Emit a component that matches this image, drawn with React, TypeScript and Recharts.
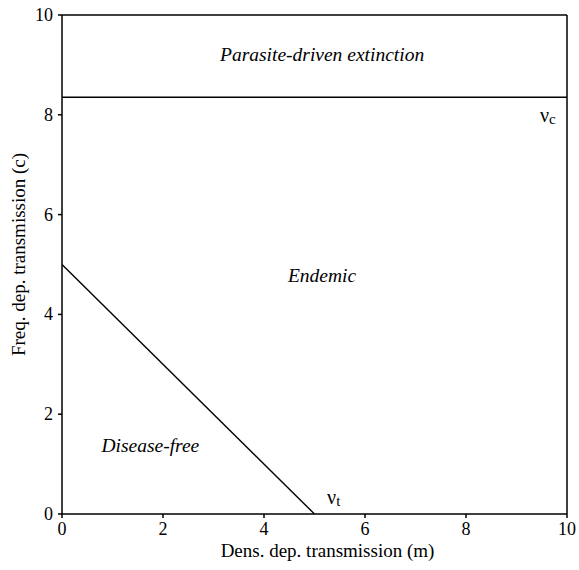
import React from 'react';
import { LineChart, Line, XAxis, YAxis, ReferenceLine, ReferenceDot, Label } from 'recharts';

// axis ticks
const axisTicks = [0, 2, 4, 6, 8, 10];

// vc threshold (horizontal line)
const vcM = [0, 10];
const vcC = [8.35, 8.35];

// vt threshold (diagonal line)
const vtM = [0, 5];
const vtC = [5, 0];

// region labels (data coordinates)
const regionNames = ['Parasite-driven extinction', 'Endemic', 'Disease-free'];
const regionM = [5.15, 5.15, 1.75];
const regionC = [9.2, 4.78, 1.38];

// threshold labels
const symbolBase = ['ν', 'ν'];
const symbolSub = ['c', 't'];
const symbolM = [9.62, 5.38];
const symbolC = [8.0, 0.35];

const vcData = vcM.map((m, i) => ({ m, c: vcC[i] }));
const vtData = vtM.map((m, i) => ({ m, c: vtC[i] }));

const FONT = '"Liberation Serif", "Times New Roman", serif';

const RegionLabel = (name: string) => (props: any) => {
  const vb = props.viewBox || {};
  const cx = vb.x + (vb.width || 0) / 2;
  const cy = vb.y + (vb.height || 0) / 2;
  return (
    <text x={cx} y={cy} textAnchor="middle" dominantBaseline="central"
      style={{ fontFamily: FONT, fontStyle: 'italic', fontSize: 19.5 }} fill="#000">
      {name}
    </text>
  );
};

const SymbolLabel = (base: string, sub: string) => (props: any) => {
  const vb = props.viewBox || {};
  const cx = vb.x + (vb.width || 0) / 2;
  const cy = vb.y + (vb.height || 0) / 2;
  return (
    <text x={cx} y={cy} textAnchor="middle" dominantBaseline="central"
      style={{ fontFamily: FONT, fontSize: 20 }} fill="#000">
      {base}
      <tspan style={{ fontSize: 15 }} dy={4}>{sub}</tspan>
    </text>
  );
};

const XTick = (props: any) => {
  const { x, y, payload } = props;
  return (
    <text x={x} y={y + 7} textAnchor="middle" dominantBaseline="central"
      style={{ fontFamily: FONT, fontSize: 18 }} fill="#000">
      {payload.value}
    </text>
  );
};

const YTick = (props: any) => {
  const { x, y, payload } = props;
  return (
    <text x={x} y={y} textAnchor="end" dominantBaseline="central"
      style={{ fontFamily: FONT, fontSize: 18 }} fill="#000">
      {payload.value}
    </text>
  );
};

const App: React.FC = () => {
  return (
    <div style={{ position: 'absolute', left: 0, top: 0, background: '#fff' }}>
      <LineChart width={579} height={570} margin={{ top: 15, right: 12, left: 0, bottom: 0 }}>
        <XAxis
          type="number"
          dataKey="m"
          domain={[0, 10]}
          ticks={axisTicks}
          allowDataOverflow
          height={56}
          stroke="#000"
          strokeWidth={1.5}
          tickSize={4}
          tickMargin={4}
          tick={<XTick />}
        >
          <Label
            content={(props: any) => {
              const vb = props.viewBox || {};
              return (
                <text x={vb.x + vb.width / 2 + 13} y={550} textAnchor="middle" dominantBaseline="central"
                  style={{ fontFamily: FONT, fontSize: 19 }} fill="#000">
                  Dens. dep. transmission (m)
                </text>
              );
            }}
          />
        </XAxis>
        <YAxis
          type="number"
          domain={[0, 10]}
          ticks={axisTicks}
          allowDataOverflow
          width={62}
          stroke="#000"
          strokeWidth={1.5}
          tickSize={4}
          tickMargin={5}
          tick={<YTick />}
        >
          <Label
            content={(props: any) => {
              const vb = props.viewBox || {};
              const cy = vb.y + vb.height / 2 - 10;
              return (
                <text x={18} y={cy} transform={`rotate(-90, 18, ${cy})`} textAnchor="middle"
                  dominantBaseline="central" style={{ fontFamily: FONT, fontSize: 19 }} fill="#000">
                  Freq. dep. transmission (c)
                </text>
              );
            }}
          />
        </YAxis>
        <ReferenceLine y={10} stroke="#000" strokeWidth={1.5} />
        <ReferenceLine x={10} stroke="#000" strokeWidth={1.5} />
        <Line data={vcData} dataKey="c" stroke="#000" strokeWidth={1.5} dot={false} isAnimationActive={false} />
        <Line data={vtData} dataKey="c" stroke="#000" strokeWidth={1.4} dot={false} isAnimationActive={false} />
        {regionNames.map((name, i) => (
          <ReferenceDot key={name} x={regionM[i]} y={regionC[i]} r={1} fill="none" stroke="none"
            label={{ content: RegionLabel(name) }} />
        ))}
        {symbolBase.map((b, i) => (
          <ReferenceDot key={symbolSub[i]} x={symbolM[i]} y={symbolC[i]} r={1} fill="none" stroke="none"
            label={{ content: SymbolLabel(b, symbolSub[i]) }} />
        ))}
      </LineChart>
    </div>
  );
};

export default App;
